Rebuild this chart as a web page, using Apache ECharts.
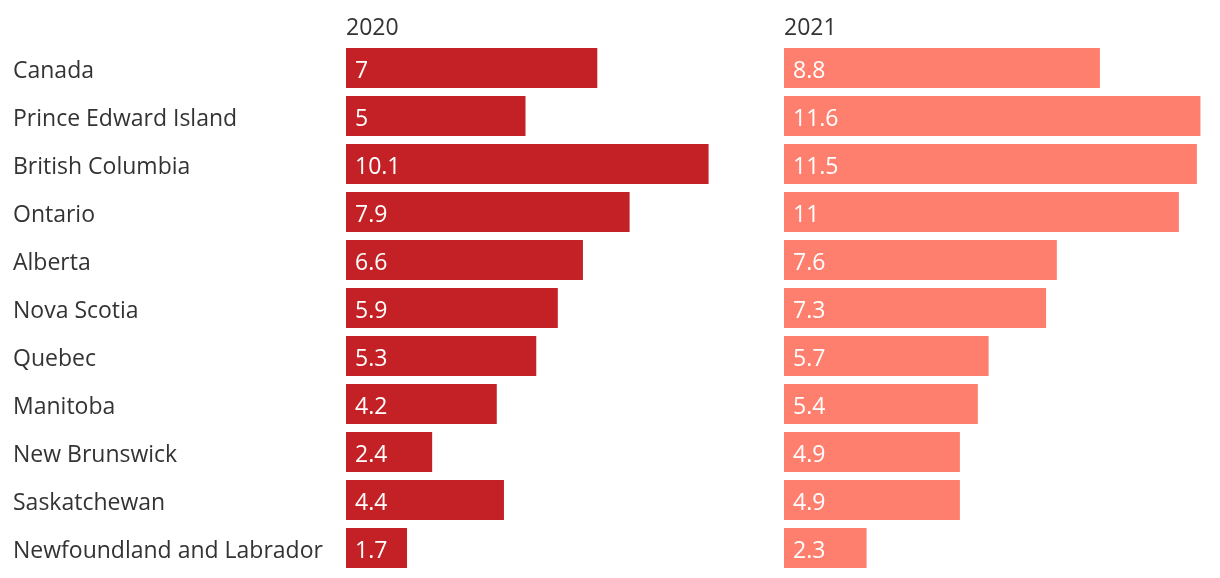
<!DOCTYPE html>
<html><head><meta charset="utf-8">
<script src="https://cdn.jsdelivr.net/npm/echarts@6/dist/echarts.min.js"></script>
<style>html,body{margin:0;padding:0;background:#fff}#c{width:1220px;height:578px}</style>
</head><body><div id="c"></div>
<script>
const categories = ["Canada","Prince Edward Island","British Columbia","Ontario","Alberta","Nova Scotia","Quebec","Manitoba","New Brunswick","Saskatchewan","Newfoundland and Labrador"];
const values2020 = [7,5,10.1,7.9,6.6,5.9,5.3,4.2,2.4,4.4,1.7];
const values2021 = [8.8,11.6,11.5,11,7.6,7.3,5.7,5.4,4.9,4.9,2.3];
const seriesNames = ["2020","2021"];

const FONT = "Open Sans";
const FS = 23;
const chart = echarts.init(document.getElementById('c'));
const gridW = 35.9*12;
chart.setOption({
  animation:false,
  textStyle:{fontFamily:FONT},
  title:[
    {text:seriesNames[0], left:341, top:12, textStyle:{fontFamily:FONT,fontSize:FS,fontWeight:'normal',color:'#333'}},
    {text:seriesNames[1], left:779, top:12, textStyle:{fontFamily:FONT,fontSize:FS,fontWeight:'normal',color:'#333'}}
  ],
  grid:[
    {left:346, top:44, width:gridW, height:528},
    {left:784, top:44, width:gridW, height:528}
  ],
  xAxis:[
    {gridIndex:0,type:'value',min:0,max:12,show:false},
    {gridIndex:1,type:'value',min:0,max:12,show:false}
  ],
  yAxis:[
    {gridIndex:0,type:'category',data:categories,inverse:true,axisLine:{show:false},axisTick:{show:false},
     axisLabel:{align:'left',verticalAlign:'top',lineHeight:6,margin:333,fontFamily:FONT,fontSize:FS,color:'#333'}},
    {gridIndex:1,type:'category',data:categories,inverse:true,show:false}
  ],
  series:[
    {type:'bar',name:seriesNames[0],xAxisIndex:0,yAxisIndex:0,data:values2020,barWidth:40,
     itemStyle:{color:'#c42127'},
     label:{show:true,position:'insideLeft',distance:9,offset:[0,3],color:'#fff',fontFamily:FONT,fontSize:FS}},
    {type:'bar',name:seriesNames[1],xAxisIndex:1,yAxisIndex:1,data:values2021,barWidth:40,
     itemStyle:{color:'#ff7f6e'},
     label:{show:true,position:'insideLeft',distance:9,offset:[0,3],color:'#fff',fontFamily:FONT,fontSize:FS}}
  ]
});
</script></body></html>
